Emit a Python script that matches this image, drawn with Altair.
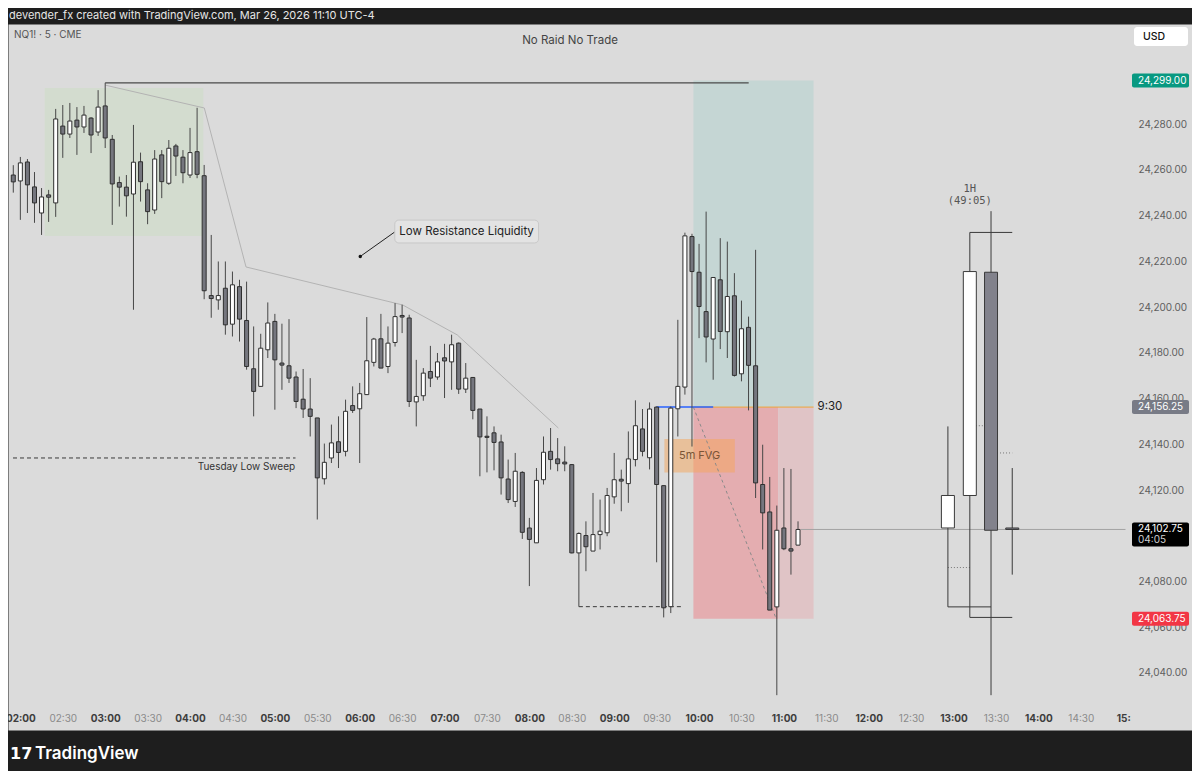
import altair as alt
import pandas as pd

# ---------------- 5-minute candles, NQ1! (CME) ----------------
bar_times = [
    "01:55",
    "02:00", "02:05", "02:10", "02:15", "02:20", "02:25", "02:30", "02:35", "02:40", "02:45", "02:50", "02:55",
    "03:00", "03:05", "03:10", "03:15", "03:20", "03:25", "03:30", "03:35", "03:40", "03:45", "03:50", "03:55",
    "04:00", "04:05", "04:10", "04:15", "04:20", "04:25", "04:30", "04:35", "04:40", "04:45", "04:50", "04:55",
    "05:00", "05:05", "05:10", "05:15", "05:20", "05:25", "05:30", "05:35", "05:40", "05:45", "05:50", "05:55",
    "06:00", "06:05", "06:10", "06:15", "06:20", "06:25", "06:30", "06:35", "06:40", "06:45", "06:50", "06:55",
    "07:00", "07:05", "07:10", "07:15", "07:20", "07:25", "07:30", "07:35", "07:40", "07:45", "07:50", "07:55",
    "08:00", "08:05", "08:10", "08:15", "08:20", "08:25", "08:30", "08:35", "08:40", "08:45", "08:50", "08:55",
    "09:00", "09:05", "09:10", "09:15", "09:20", "09:25", "09:30", "09:35", "09:40", "09:45", "09:50", "09:55",
    "10:00", "10:05", "10:10", "10:15", "10:20", "10:25", "10:30", "10:35", "10:40", "10:45", "10:50", "10:55",
    "11:00", "11:05", "11:10",
]
opens = [
    24257.7,
    24255.1, 24263.4, 24252.5, 24241.1, 24249.0, 24245.5, 24279.1, 24275.6, 24281.7, 24278.7, 24282.6, 24276.5,
    24287.9, 24273.3, 24254.4, 24252.4, 24249.4, 24263.5, 24251.2, 24242.4, 24266.5, 24254.1, 24270.4, 24265.5,
    24257.7, 24267.9, 24257.4, 24205.0, 24203.1, 24208.2, 24192.5, 24208.9, 24194.1, 24173.0, 24165.3, 24181.3,
    24193.7, 24175.5, 24174.3, 24169.4, 24159.7, 24155.4, 24151.5, 24124.9, 24134.0, 24141.1, 24136.9, 24156.9,
    24155.5, 24161.7, 24175.8, 24186.1, 24174.0, 24184.5, 24196.3, 24195.2, 24158.5, 24161.2, 24171.8, 24169.4,
    24177.8, 24176.0, 24184.2, 24164.1, 24169.2, 24155.4, 24143.5, 24145.0, 24141.0, 24124.8, 24115.0, 24127.7,
    24103.4, 24096.9, 24124.5, 24136.9, 24133.6, 24132.2, 24131.1, 24092.5, 24100.1, 24093.3, 24100.5, 24101.3,
    24117.0, 24124.7, 24122.8, 24133.3, 24146.7, 24134.1, 24156.25, 24121.9, 24069.0, 24155.5, 24165.0, 24230.8,
    24215.2, 24198.0, 24186.0, 24211.9, 24189.2, 24204.9, 24170.8, 24191.1, 24174.3, 24122.4, 24110.4, 24068.9,
    24103.4, 24094.3, 24095.9,
]
highs = [
    24262.0,
    24265.6, 24264.7, 24259.0, 24252.0, 24251.2, 24286.6, 24288.3, 24289.2, 24287.4, 24287.9, 24283.0, 24294.8,
    24298.0, 24275.2, 24257.0, 24257.7, 24279.6, 24267.5, 24254.1, 24268.6, 24268.6, 24273.0, 24271.3, 24268.6,
    24278.3, 24287.1, 24262.1, 24231.5, 24219.9, 24219.9, 24215.5, 24211.9, 24211.1, 24191.5, 24188.3, 24202.0,
    24197.0, 24192.7, 24194.7, 24171.8, 24172.9, 24168.9, 24151.5, 24140.3, 24148.6, 24152.2, 24159.5, 24165.3,
    24166.8, 24195.6, 24186.5, 24197.0, 24191.5, 24201.7, 24201.0, 24196.6, 24176.9, 24173.3, 24183.0, 24179.9,
    24183.9, 24187.9, 24184.5, 24175.5, 24169.4, 24155.4, 24152.2, 24147.8, 24144.2, 24133.3, 24136.2, 24128.2,
    24107.8, 24129.6, 24143.4, 24147.1, 24142.7, 24139.1, 24131.3, 24101.5, 24106.3, 24118.7, 24115.8, 24120.9,
    24136.2, 24128.9, 24145.6, 24159.2, 24155.4, 24158.3, 24156.5, 24122.0, 24156.5, 24194.4, 24232.5, 24232.0,
    24227.6, 24241.7, 24213.0, 24230.1, 24228.6, 24214.8, 24202.8, 24195.8, 24225.0, 24139.8, 24125.7, 24113.2,
    24129.6, 24129.2, 24106.3,
]
lows = [
    24250.0,
    24238.1, 24241.1, 24236.8, 24231.5, 24237.2, 24239.4, 24265.2, 24273.9, 24266.5, 24276.1, 24267.3, 24274.8,
    24269.5, 24235.9, 24243.9, 24239.5, 24198.8, 24246.1, 24236.2, 24240.7, 24247.6, 24253.4, 24257.3, 24254.1,
    24256.4, 24256.3, 24203.4, 24195.3, 24198.8, 24187.9, 24187.1, 24184.9, 24172.6, 24152.2, 24165.3, 24177.7,
    24155.1, 24163.8, 24166.8, 24155.8, 24151.5, 24143.4, 24107.1, 24122.4, 24131.8, 24129.6, 24134.7, 24153.7,
    24131.8, 24161.7, 24174.0, 24173.3, 24171.1, 24182.7, 24188.6, 24156.3, 24147.8, 24159.0, 24165.0, 24168.2,
    24160.2, 24163.8, 24162.0, 24162.4, 24150.9, 24126.0, 24127.7, 24128.6, 24118.0, 24114.3, 24112.6, 24098.6,
    24078.0, 24096.9, 24122.4, 24128.9, 24128.2, 24128.2, 24092.3, 24069.0, 24084.5, 24093.3, 24094.0, 24099.8,
    24114.0, 24110.7, 24114.4, 24130.3, 24134.7, 24129.0, 24088.4, 24064.3, 24066.2, 24143.4, 24161.7, 24139.0,
    24186.4, 24175.8, 24168.2, 24181.6, 24177.7, 24169.6, 24167.5, 24154.8, 24116.5, 24094.0, 24067.5, 24030.3,
    24093.7, 24083.0, 24095.9,
]
closes = [
    24254.7,
    24263.0, 24253.4, 24245.5, 24248.1, 24248.0, 24282.2, 24275.6, 24281.3, 24278.7, 24283.9, 24275.2, 24287.4,
    24273.9, 24253.8, 24252.4, 24248.6, 24263.3, 24254.8, 24241.7, 24264.7, 24254.8, 24269.4, 24266.0, 24258.7,
    24267.5, 24258.0, 24207.1, 24203.7, 24205.0, 24192.2, 24209.7, 24194.7, 24174.0, 24163.1, 24182.0, 24193.0,
    24176.9, 24174.6, 24168.9, 24158.7, 24155.4, 24152.2, 24125.3, 24132.1, 24140.6, 24136.4, 24154.4, 24154.8,
    24162.1, 24176.5, 24186.0, 24173.3, 24184.2, 24195.8, 24195.6, 24158.7, 24160.9, 24171.1, 24168.9, 24176.0,
    24176.4, 24183.5, 24164.1, 24168.9, 24154.8, 24143.2, 24143.0, 24140.8, 24125.3, 24115.8, 24128.2, 24101.5,
    24098.4, 24124.2, 24136.5, 24133.3, 24131.5, 24131.4, 24092.5, 24101.0, 24095.2, 24100.5, 24102.0, 24117.6,
    24124.5, 24123.9, 24133.6, 24148.1, 24136.9, 24155.4, 24122.4, 24068.5, 24155.8, 24165.3, 24231.1, 24215.5,
    24200.2, 24186.9, 24212.9, 24189.3, 24204.6, 24170.1, 24190.5, 24174.5, 24123.1, 24110.0, 24067.5, 24102.4,
    24094.3, 24093.3, 24102.75,
]

# ---------------- 1H candles drawn to the right (HTF overlay) ----------------
htf_hours = ["08:00", "09:00", "10:00", "11:00"]
htf_slot = [776.0, 791.5, 806.5, 821.5]          # where the overlay draws them on the time axis (minutes)
htf_open = [24103.4, 24117.6, 24215.2, 24103.4]
htf_high = [24147.8, 24232.6, 24241.9, 24129.6]
htf_low = [24068.9, 24064.3, 24030.3, 24083.0]
htf_close = [24117.6, 24215.5, 24102.4, 24102.75]
htf_lvl_from = [776.0, 791.5, 791.5]
htf_lvl_to = [806.5, 821.5, 821.5]
htf_lvl_price = [24068.9, 24232.6, 24064.3]
htf_mid_from = [776.0, 791.5, 806.5]
htf_mid_to = [791.5, 806.5, 821.5]
htf_mid_price = [24086.1, 24148.1, 24136.2]

# ---------------- axes ----------------
tick_labels = ["02:00", "02:30", "03:00", "03:30", "04:00", "04:30", "05:00", "05:30", "06:00",
               "06:30", "07:00", "07:30", "08:00", "08:30", "09:00", "09:30", "10:00", "10:30",
               "11:00", "11:30", "12:00", "12:30", "13:00", "13:30", "14:00", "14:30", "15:00"]
price_ticks = [24040, 24060, 24080, 24100, 24120, 24140, 24160, 24180, 24200,
               24220, 24240, 24260, 24280]

# ---------------- drawings (time in minutes of day, price) ----------------
range_box = {"t1": 137.2, "t2": 249.4, "p1": 24231.0, "p2": 24295.7}
target_box = {"t1": 596.0, "t2": 681.0, "p1": 24156.25, "p2": 24299.0}
stop_active = {"t1": 596.0, "t2": 656.0, "p1": 24063.75, "p2": 24156.25}
stop_after = {"t1": 656.0, "t2": 681.0, "p1": 24063.75, "p2": 24156.25}
fvg_box = {"t1": 575.5, "t2": 625.3, "p1": 24127.7, "p2": 24142.3}
high_line = {"t1": 180.0, "t2": 635.1, "p": 24298.0}
liq_t = [180.0, 250.1, 279.6, 390.4, 429.0, 500.5]
liq_p = [24297.0, 24287.0, 24217.5, 24200.9, 24187.8, 24147.1]
dashed_t1 = [114.8, 515.0]
dashed_t2 = [314.6, 588.1]
dashed_p = [24134.0, 24069.0]
open_930 = 24156.25
last_price = 24102.75
callout = {"t1": 360.4, "p1": 24222.1, "t2": 385.0, "p2": 24232.9}
callout_box = {"t1": 384.8, "t2": 486.5, "p1": 24228.0, "p2": 24238.0}
trade_path = {"t1": 596.0, "p1": 24156.25, "t2": 654.0, "p2": 24064.6}
badge_price = [24299.0, 24156.25, 24063.75]
badge_color = ["#089981", "#787b86", "#f23645"]


def hm(s):
    h, m = s.split(":")
    return int(h) * 60 + int(m)


FONT = "Inter"
xs = alt.Scale(domain=[114.8, 945.1], nice=False, zero=False)
ys = alt.Scale(domain=[24015.08, 24323.72], nice=False, zero=False)
xaxis = alt.Axis(
    values=[hm(s) for s in tick_labels], orient="bottom", offset=-24, title=None,
    grid=False, ticks=False, domain=False, labelFlush=False, labelOverlap=False,
    labelPadding=12, labelBaseline="middle", labelFont=FONT, labelFontSize=10,
    labelExpr="datum.value >= 900 ? '15:' : (datum.value < 600 ? '0' : '') + floor(datum.value / 60) + ':' + (datum.value % 60 == 0 ? '00' : '30')",
    labelFontWeight={"condition": {"test": "datum.value % 60 == 0", "value": "bold"}, "value": "normal"},
    labelColor={"condition": {"test": "datum.value % 60 == 0", "value": "#3d3d3d"}, "value": "#8a8a8a"},
)
yaxis = alt.Axis(
    values=price_ticks, orient="right", offset=-62, title=None, format=",.2f",
    grid=False, ticks=False, domain=False, labelPadding=8, labelFont=FONT,
    labelFontSize=10, labelColor="#5e5e5e",
)


def X(f):
    return alt.X(f, type="quantitative", scale=xs, axis=xaxis)


def Y(f):
    return alt.Y(f, type="quantitative", scale=ys, axis=yaxis)


# ---------------- tables ----------------
candles = pd.DataFrame({"t": [hm(s) for s in bar_times], "o": opens, "h": highs, "l": lows, "c": closes})
candles["fill"] = ["#ffffff" if c > o else "#75767e" for o, c in zip(opens, closes)]

htf = pd.DataFrame({"hour": htf_hours, "t": htf_slot, "o": htf_open, "h": htf_high, "l": htf_low, "c": htf_close})
htf["fill"] = ["#ffffff" if c > o else "#82828c" for o, c in zip(htf_open, htf_close)]
htf_lvl = pd.DataFrame({"t1": htf_lvl_from, "t2": htf_lvl_to, "p": htf_lvl_price})
htf_mid = pd.DataFrame({"t1": htf_mid_from, "t2": htf_mid_to, "p": htf_mid_price})

zones = pd.DataFrame([range_box, target_box, stop_active, stop_after])
zones["fill"] = ["#d3dccf", "#c5d6d4", "#e4adb0", "#e0c4c6"]
fvg = pd.DataFrame([fvg_box])
liq = pd.DataFrame({"t": liq_t, "p": liq_p, "i": list(range(len(liq_t)))})
dashed = pd.DataFrame({"t1": dashed_t1, "t2": dashed_t2, "p": dashed_p})
one = lambda d: pd.DataFrame([d])

layers = []
# zones
layers.append(alt.Chart(zones).mark_rect().encode(
    x=X("t1"), x2="t2", y=Y("p1"), y2="p2", color=alt.Color("fill:N", scale=None)))
layers.append(alt.Chart(fvg).mark_rect(color="#f6a65a", opacity=0.5).encode(
    x=X("t1"), x2="t2", y=Y("p1"), y2="p2"))
# lines
layers.append(alt.Chart(one(high_line)).mark_rule(color="#4a4a4a", strokeWidth=1.3).encode(
    x=X("t1"), x2="t2", y=Y("p")))
layers.append(alt.Chart(liq).mark_line(color="#b3b3b3", strokeWidth=1).encode(
    x=X("t"), y=Y("p"), order="i:Q"))
layers.append(alt.Chart(dashed).mark_rule(color="#3a3a3a", strokeWidth=1, strokeDash=[4, 3]).encode(
    x=X("t1"), x2="t2", y=Y("p")))
layers.append(alt.Chart(one(trade_path)).mark_rule(color="#8a8a8a", strokeWidth=1, strokeDash=[3, 3]).encode(
    x=X("t1"), x2="t2", y=Y("p1"), y2="p2"))
layers.append(alt.Chart(one({"t1": 596.0, "t2": 681.0, "p": open_930})).mark_rule(color="#eea53a", strokeWidth=1).encode(
    x=X("t1"), x2="t2", y=Y("p")))
layers.append(alt.Chart(one({"t1": 570.0, "t2": 610.0, "p": open_930})).mark_rule(color="#2962ff", strokeWidth=1.5).encode(
    x=X("t1"), x2="t2", y=Y("p")))
layers.append(alt.Chart(one({"t1": 672.0, "t2": 901.6, "p": last_price})).mark_rule(color="#a3a3a3", strokeWidth=1).encode(
    x=X("t1"), x2="t2", y=Y("p")))
layers.append(alt.Chart(one(callout)).mark_rule(color="#222222", strokeWidth=1).encode(
    x=X("t1"), x2="t2", y=Y("p1"), y2="p2"))
layers.append(alt.Chart(one(callout)).mark_point(filled=True, size=12, color="#111111", opacity=1).encode(
    x=X("t1"), y=Y("p1")))
layers.append(alt.Chart(one(callout_box)).mark_rect(color="#e3e3e3", stroke="#c8c8c8", strokeWidth=1, cornerRadius=4).encode(
    x=X("t1"), x2="t2", y=Y("p1"), y2="p2"))
layers.append(alt.Chart(one({"txt": "Low Resistance Liquidity", "t": 435.6, "p": 24232.9})).mark_text(
    font=FONT, fontSize=11.5, color="#222222").encode(x=X("t"), y=Y("p"), text="txt:N"))
# 5m candles
layers.append(alt.Chart(candles).mark_rule(color="#474747", strokeWidth=1).encode(
    x=X("t"), y=Y("l"), y2="h"))
layers.append(alt.Chart(candles).mark_bar(size=4, stroke="#2f2f2f", strokeWidth=1).encode(
    x=X("t"), y=Y("o"), y2="c", color=alt.Color("fill:N", scale=None)))
# HTF overlay
layers.append(alt.Chart(htf_mid).mark_rule(color="#777777", strokeWidth=1, strokeDash=[1, 2]).encode(
    x=X("t1"), x2="t2", y=Y("p")))
layers.append(alt.Chart(htf_lvl).mark_rule(color="#3a3a3a", strokeWidth=1).encode(
    x=X("t1"), x2="t2", y=Y("p")))
layers.append(alt.Chart(htf).mark_rule(color="#3a3a3a", strokeWidth=1).encode(
    x=X("t"), y=Y("l"), y2="h"))
layers.append(alt.Chart(htf).mark_bar(size=13, stroke="#3a3a3a", strokeWidth=1).encode(
    x=X("t"), y=Y("o"), y2="c", color=alt.Color("fill:N", scale=None)))
layers.append(alt.Chart(one({"txt": "1H\n(49:05)", "t": 791.5, "p": 24251.8})).mark_text(
    font="DejaVu Sans Mono", fontSize=10.5, color="#555555", lineBreak="\n", baseline="middle").encode(
    x=X("t"), y=Y("p"), text="txt:N"))
# annotation texts
layers.append(alt.Chart(one({"txt": "Tuesday Low Sweep", "t": 279.9, "p": 24134.0})).mark_text(
    font=FONT, fontSize=10, color="#333333", dy=9).encode(x=X("t"), y=Y("p"), text="txt:N"))
layers.append(alt.Chart(one({"txt": "5m FVG", "t": 600.4, "p": 24135.0})).mark_text(
    font=FONT, fontSize=11, color="#7b5436").encode(x=X("t"), y=Y("p"), text="txt:N"))
layers.append(alt.Chart(one({"txt": "9:30", "t": 681.0, "p": open_930})).mark_text(
    font=FONT, fontSize=11.5, color="#222222", align="left", dx=4).encode(x=X("t"), y=Y("p"), text="txt:N"))
# price-scale badges (positions relative to the plot origin)
badges = pd.DataFrame({"p": badge_price, "col": badge_color, "lbl": [f"{v:,.2f}" for v in badge_price]})
layers.append(alt.Chart(badges).mark_rect(yOffset=-7, y2Offset=7, cornerRadius=2).encode(
    x=alt.value(1124), x2=alt.value(1181), y=Y("p"), y2=alt.Y2("p"), color=alt.Color("col:N", scale=None)))
layers.append(alt.Chart(badges).mark_text(font=FONT, fontSize=10, color="#ffffff", align="left").encode(
    x=alt.value(1130), y=Y("p"), text="lbl:N"))
lastdf = pd.DataFrame({"p": [last_price], "lbl": [f"{last_price:,.2f}"], "cd": ["04:05"]})
layers.append(alt.Chart(lastdf).mark_rect(yOffset=-7, y2Offset=17, cornerRadius=2, color="#000000").encode(
    x=alt.value(1124), x2=alt.value(1181), y=Y("p"), y2=alt.Y2("p")))
layers.append(alt.Chart(lastdf).mark_text(font=FONT, fontSize=10, color="#ffffff", align="left").encode(
    x=alt.value(1130), y=Y("p"), text="lbl:N"))
layers.append(alt.Chart(lastdf).mark_text(font=FONT, fontSize=10, color="#d0d0d0", align="left", dy=11).encode(
    x=alt.value(1130), y=Y("p"), text="cd:N"))
# UI chrome texts (positions relative to the plot origin)
layers.append(alt.Chart(pd.DataFrame({"u": ["USD"]})).mark_rect(color="#ffffff", cornerRadius=3).encode(
    x=alt.value(1126), x2=alt.value(1180), y=alt.value(3), y2=alt.value(22)))
layers.append(alt.Chart(pd.DataFrame({"u": ["USD"]})).mark_text(font=FONT, fontSize=10.5, fontWeight=500, color="#111111", align="left").encode(
    x=alt.value(1135), y=alt.value(12.5), text="u:N"))
layers.append(alt.Chart(pd.DataFrame({"u": ["NQ1! · 5 · CME"]})).mark_text(font=FONT, fontSize=10, color="#555555", align="left").encode(
    x=alt.value(6), y=alt.value(11), text="u:N"))
layers.append(alt.Chart(pd.DataFrame({"u": ["No Raid No Trade"]})).mark_text(font=FONT, fontSize=11.5, color="#444444").encode(
    x=alt.value(562), y=alt.value(17), text="u:N"))
layers.append(alt.Chart(pd.DataFrame({"u": ["17"]})).mark_text(font="DejaVu Sans", fontSize=16, fontWeight="bold", color="#ffffff", align="left").encode(
    x=alt.value(2), y=alt.value(730), text="u:N"))
layers.append(alt.Chart(pd.DataFrame({"u": ["TradingView"]})).mark_text(font=FONT, fontSize=17, fontWeight=600, color="#ffffff", align="left").encode(
    x=alt.value(27), y=alt.value(730), text="u:N"))

chart = alt.layer(*layers).properties(
    width=1184, height=706,
    background="#1e1e1e",
    padding={"left": 0, "top": 16, "right": 0, "bottom": 41},
    autosize=alt.AutoSizeParams(type="none"),
    title=alt.TitleParams(
        "devender_fx created with TradingView.com, Mar 26, 2026 11:10 UTC-4",
        anchor="start", orient="top", offset=3, fontSize=11, font=FONT,
        fontWeight="normal", color="#e6e6e6", frame="group", dx=1,
    ),
).configure_view(fill="#dbdbdb", stroke="transparent")

chart.save("out.html", embed_options={"renderer": "svg", "actions": False})
